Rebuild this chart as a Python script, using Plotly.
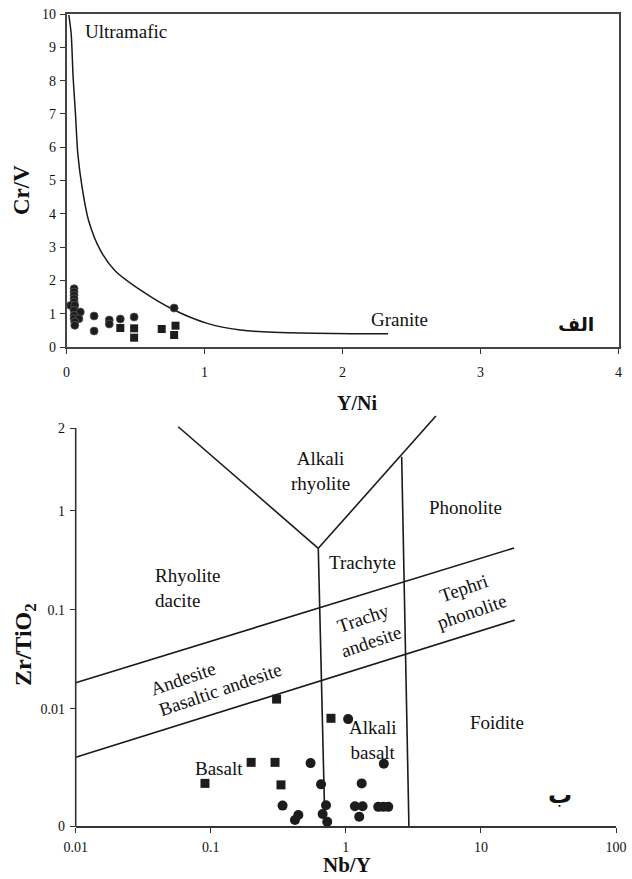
import plotly.graph_objects as go

W, H = 632, 879

# ---------------- Top diagram: Cr/V vs Y/Ni ----------------
curve_x = [0.017, 0.034, 0.048, 0.065, 0.082, 0.114, 0.16, 0.246, 0.35, 0.54, 0.78, 1.02, 1.26, 1.5, 1.8, 2.07, 2.33]
curve_y = [9.97, 9.4, 8.1, 7.0, 5.8, 4.77, 3.8, 2.9, 2.3, 1.7, 1.11, 0.71, 0.51, 0.44, 0.41, 0.40, 0.40]

top_circ_x = [0.055, 0.055, 0.055, 0.055, 0.055, 0.03, 0.06, 0.055, 0.1, 0.055, 0.055, 0.09, 0.06, 0.06,
              0.2, 0.2, 0.31, 0.31, 0.39, 0.49, 0.78]
top_circ_y = [1.75, 1.65, 1.55, 1.45, 1.35, 1.25, 1.25, 1.1, 1.05, 0.95, 0.85, 0.85, 0.75, 0.65,
              0.93, 0.48, 0.81, 0.69, 0.84, 0.9, 1.17]
top_sq_x = [0.39, 0.49, 0.49, 0.69, 0.79, 0.78]
top_sq_y = [0.57, 0.56, 0.28, 0.54, 0.64, 0.36]

# ---------------- Bottom diagram: Zr/TiO2 vs Nb/Y ----------------
bot_circ_x = [1.04, 0.548, 1.91, 0.655, 1.31, 0.340, 0.445, 0.420, 0.713, 0.673, 0.728, 1.167, 1.33, 1.256, 1.738, 1.892, 2.06]
bot_circ_y = [0.00785, 0.00282, 0.00278, 0.00172, 0.00176, 0.00105, 0.000843, 0.00075, 0.00106, 0.000863, 0.000721,
              0.001035, 0.001035, 0.000811, 0.00102, 0.00102, 0.00102]
bot_sq_x = [0.307, 0.776, 0.199, 0.299, 0.0906, 0.331]
bot_sq_y = [0.0125, 0.0080, 0.00287, 0.00287, 0.00176, 0.0017]

# field boundaries (Nb/Y, Zr/TiO2)
left_arm_x = [0.0574, 0.625]
left_arm_y = [7.05, 0.417]
right_arm_x = [0.625, 4.64]
right_arm_y = [0.417, 9.04]
right_vert_x = [2.59, 2.93]
right_vert_y = [3.51, 0.000653]
mid_vert_x = [0.625, 0.70]
mid_vert_y = [0.417, 0.000653]
upper_diag_x = [0.01, 17.6]
upper_diag_y = [0.0183, 0.42]
lower_diag_x = [0.01, 17.8]
lower_diag_y = [0.00323, 0.0785]

y2_tickvals = [10 ** -3.185, 0.01, 0.1, 1, 10 ** 0.835]
y2_ticktext = ["0", "0.01", "0.1", "1", "2"]
x2_tickvals = [0.01, 0.1, 1, 10, 100]
x2_ticktext = ["0.01", "0.1", "1", "10", "100"]

SERIF = "Liberation Serif"
BLACK = "#111111"
LINE = dict(color="#1a1a1a", width=1.6)


def px(x):
    return x / W


def py(y):
    return 1 - y / H


fig = go.Figure()

# top traces
fig.add_trace(go.Scatter(x=curve_x, y=curve_y, mode="lines", line=dict(color="#1a1a1a", width=1.5, shape="spline", smoothing=0.8),
                         xaxis="x", yaxis="y", showlegend=False, hoverinfo="skip"))
fig.add_trace(go.Scatter(x=top_circ_x, y=top_circ_y, mode="markers",
                         marker=dict(symbol="circle", size=8, color="#1c1c1c", line=dict(color="#555", width=0.8)),
                         xaxis="x", yaxis="y", showlegend=False, cliponaxis=False))
fig.add_trace(go.Scatter(x=top_sq_x, y=top_sq_y, mode="markers",
                         marker=dict(symbol="square", size=8, color="#1c1c1c"),
                         xaxis="x", yaxis="y", showlegend=False, cliponaxis=False))

# bottom boundaries
for bx, by in [(left_arm_x, left_arm_y), (right_arm_x, right_arm_y), (right_vert_x, right_vert_y),
               (mid_vert_x, mid_vert_y), (upper_diag_x, upper_diag_y), (lower_diag_x, lower_diag_y)]:
    fig.add_trace(go.Scatter(x=bx, y=by, mode="lines", line=LINE, xaxis="x2", yaxis="y2",
                             showlegend=False, hoverinfo="skip"))

fig.add_trace(go.Scatter(x=bot_circ_x, y=bot_circ_y, mode="markers",
                         marker=dict(symbol="circle", size=10, color="#1c1c1c"),
                         xaxis="x2", yaxis="y2", showlegend=False, cliponaxis=False))
fig.add_trace(go.Scatter(x=bot_sq_x, y=bot_sq_y, mode="markers",
                         marker=dict(symbol="square", size=9, color="#1c1c1c"),
                         xaxis="x2", yaxis="y2", showlegend=False, cliponaxis=False))

tickfont = dict(family=SERIF, size=14, color=BLACK)
axcommon = dict(showgrid=False, zeroline=False, ticks="outside", ticklen=5, tickwidth=1.2,
                tickcolor="#333", tickfont=tickfont, automargin=False)

fig.update_layout(
    template="none",
    width=W, height=H, margin=dict(l=0, r=0, t=0, b=0, pad=0),
    paper_bgcolor="white", plot_bgcolor="white",
    xaxis=dict(domain=[px(66.5), px(618.5)], range=[0, 4], tickvals=[0, 1, 2, 3, 4],
               showline=True, linecolor="#444", linewidth=1.6, mirror=True, anchor="y",
               ticklabelstandoff=6, **axcommon),
    yaxis=dict(domain=[py(347), py(14)], range=[0, 10], tickvals=list(range(11)),
               showline=True, linecolor="#444", linewidth=1.6, mirror=True, anchor="x",
               ticklabelstandoff=1, **axcommon),
    xaxis2=dict(domain=[px(75.7), px(616)], type="log", range=[-2, 2], tickvals=x2_tickvals, ticktext=x2_ticktext,
                showline=True, linecolor="#333", linewidth=1.6, anchor="y2", ticklabelstandoff=2, **axcommon),
    yaxis2=dict(domain=[py(826), py(414.7)], type="log", range=[-3.185, 0.97], tickvals=y2_tickvals,
                ticktext=y2_ticktext, showline=False, anchor="x2", ticklabelstandoff=2, **axcommon),
)

# bottom y axis line (stops at top tick)
fig.add_shape(type="line", xref="paper", yref="paper", x0=px(75.7), x1=px(75.7), y0=py(826.8), y1=py(428),
              line=dict(color="#333", width=1.6))


def ann(text, x, y, size=18, angle=0, bold=False, family=SERIF, xanchor="center", align="center", yanchor="middle"):
    t = f"<b>{text}</b>" if bold else text
    fig.add_annotation(text=t, x=px(x), y=py(y), xref="paper", yref="paper", showarrow=False,
                       textangle=angle, xanchor=xanchor, yanchor=yanchor, align=align,
                       font=dict(family=family, size=size, color=BLACK))


# top labels
ann("Ultramafic", 83, 32, size=19, xanchor="left")
ann("Granite", 399, 319, size=19)
ann("الف", 576, 324, size=19, bold=True, family="DejaVu Sans")
ann("Cr/V", 21, 190, size=23, angle=-90, bold=True)
ann("Y/Ni", 357, 403, size=20, bold=True)

# bottom labels
ann("Alkali<br>rhyolite", 320, 471, size=19)
ann("Phonolite", 465, 507, size=19)
ann("Trachyte", 363, 562, size=19)
ann("Rhyolite<br>dacite", 153, 588, size=19, xanchor="left", align="left")
ann("Trachy<br>andesite", 367, 630, size=19, angle=-19)
ann("Tephri<br>phonolite", 468, 600, size=19, angle=-19)
ann("Andesite", 183, 678, size=19, angle=-19)
ann("Basaltic andesite", 220, 689, size=19, angle=-19)
ann("Alkali<br>basalt", 373, 740, size=19)
ann("Basalt", 219, 768, size=19)
ann("Foidite", 497, 722, size=19)
ann("ب", 560, 795, size=24, bold=True, family="DejaVu Sans")
ann("Zr/TiO<sub>2</sub>", 25, 645, size=24, angle=-90, bold=True)
ann("Nb/Y", 347, 879, size=21, bold=True, yanchor="bottom")

fig.write_html("out.html", config={"displayModeBar": False},
               post_script="document.body.style.margin='0px';document.body.style.overflow='hidden';")
